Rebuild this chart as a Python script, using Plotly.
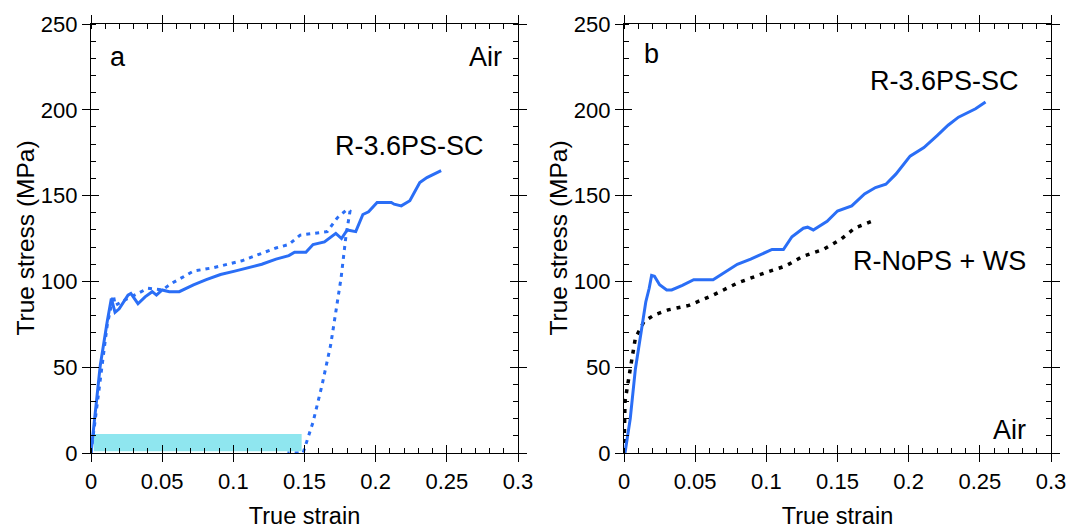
import plotly.graph_objects as go

# ---------------- data ----------------
# Panel a: solid curve (R-3.6PS-SC, monotonic)
a_solid_strain = [0.0, 0.0065, 0.0114, 0.0143, 0.0169, 0.0198, 0.026, 0.028, 0.033, 0.038, 0.043, 0.046,
                  0.050, 0.055, 0.062, 0.072, 0.081, 0.091, 0.101, 0.110, 0.120, 0.130, 0.139, 0.143,
                  0.151, 0.156, 0.164, 0.172, 0.176, 0.180, 0.186, 0.191, 0.195, 0.201, 0.211, 0.213,
                  0.218, 0.224, 0.231, 0.236, 0.246]
a_solid_stress = [0, 51, 76.6, 90, 82, 84, 92, 93, 87, 91, 94, 92,
                  95, 94, 94, 98, 101, 104, 106, 108, 110, 113, 115, 117,
                  117, 121.5, 123, 128, 125, 130, 129, 139, 140.6, 146, 146, 145,
                  144, 147, 157.6, 160.5, 164.5]

# Panel a: dotted curve (loading then unloading)
a_dot_strain = [0.0, 0.0065, 0.0114, 0.0157, 0.017, 0.0234, 0.033, 0.040, 0.050, 0.057, 0.072, 0.086,
                0.106, 0.120, 0.130, 0.139, 0.147, 0.166, 0.173, 0.180, 0.182, 0.1792, 0.1757, 0.1684,
                0.1623, 0.156, 0.150, 0.149, 0.138]
a_dot_stress = [0, 43, 74.6, 92, 86, 89, 93, 96, 95, 99, 106, 108,
                112, 116.6, 119.5, 121.5, 127, 129, 137, 142, 141, 127, 102, 63,
                39.5, 18, 2.3, 0, 0]

# Panel a: shaded strain band
band_strain = [0.002, 0.148]
band_stress = [1, 11]

# Panel b: solid curve (R-3.6PS-SC)
b_solid_strain = [0.0007, 0.0044, 0.008, 0.0117, 0.0153, 0.0177, 0.0194, 0.0214, 0.025, 0.030, 0.0335,
                  0.041, 0.049, 0.0626, 0.072, 0.0796, 0.089, 0.099, 0.104, 0.112, 0.118, 0.126, 0.129,
                  0.133, 0.1427, 0.150, 0.160, 0.169, 0.1767, 0.184, 0.191, 0.201, 0.2107, 0.220,
                  0.2277, 0.235, 0.247, 0.254]
b_solid_stress = [0, 20, 49, 69, 88, 96, 103.5, 103, 98, 95, 95,
                  97.7, 101, 101, 106, 110, 113, 117, 118.6, 118.6, 126, 131, 131.6,
                  130, 135, 141, 144, 151, 154.7, 156.6, 162.5, 173, 178, 185,
                  191, 195.7, 200.6, 204.5]

# Panel b: dotted curve (R-NoPS + WS)
b_dot_strain = [0.0, 0.0007, 0.0044, 0.008, 0.014, 0.0214, 0.031, 0.0456, 0.0626, 0.0796, 0.099,
                0.1136, 0.1257, 0.140, 0.1524, 0.162, 0.174]
b_dot_stress = [0, 30, 49, 67, 76.6, 80.5, 83.4, 86, 92, 99, 105,
                109, 114.6, 118.6, 124.6, 131, 135]

x_ticks = [0, 0.05, 0.1, 0.15, 0.2, 0.25, 0.3]
x_tick_labels = ["0", "0.05", "0.1", "0.15", "0.2", "0.25", "0.3"]
y_ticks = [0, 50, 100, 150, 200, 250]
y_tick_labels = ["0", "50", "100", "150", "200", "250"]

# ---------------- figure ----------------
BLUE = "#2a6ef6"
CYAN = "#8fe6ef"
FONT = "Liberation Sans, Arial, sans-serif"
W, H = 1071, 529

fig = go.Figure()

# band (panel a)
fig.add_trace(go.Scatter(
    x=[band_strain[0], band_strain[1], band_strain[1], band_strain[0], band_strain[0]],
    y=[band_stress[0], band_stress[0], band_stress[1], band_stress[1], band_stress[0]],
    mode="lines", fill="toself", fillcolor=CYAN, line=dict(width=0, color=CYAN),
    xaxis="x", yaxis="y", showlegend=False, hoverinfo="skip"))

fig.add_trace(go.Scatter(x=a_dot_strain, y=a_dot_stress, mode="lines",
                         line=dict(color=BLUE, width=3, dash="4px,5px"),
                         xaxis="x", yaxis="y", showlegend=False))
fig.add_trace(go.Scatter(x=a_solid_strain, y=a_solid_stress, mode="lines",
                         line=dict(color=BLUE, width=3),
                         xaxis="x", yaxis="y", showlegend=False))

fig.add_trace(go.Scatter(x=b_dot_strain, y=b_dot_stress, mode="lines",
                         line=dict(color="black", width=3.5, dash="4px,6px"),
                         xaxis="x2", yaxis="y2", showlegend=False))
fig.add_trace(go.Scatter(x=b_solid_strain, y=b_solid_stress, mode="lines",
                         line=dict(color=BLUE, width=3),
                         xaxis="x2", yaxis="y2", showlegend=False))

dom_a = [91 / W, 518 / W]
dom_b = [624 / W, 1051 / W]

def xmain(dom, anchor):
    return dict(domain=dom, anchor=anchor, range=[0, 0.3], tickmode="array", automargin=False,
                tickvals=x_ticks, ticktext=x_tick_labels, ticks="outside", ticklen=8,
                tickwidth=1.3, tickcolor="black", showline=True, linecolor="black",
                linewidth=1.3, mirror="allticks", showgrid=False, zeroline=False,
                tickfont=dict(family=FONT, size=22, color="black"),
                title=dict(text="True strain", font=dict(family=FONT, size=23.5, color="black")),
                minor=dict(dtick=0.01, tick0=0, ticks="inside", ticklen=5, tickwidth=1.1,
                           tickcolor="black", showgrid=False))

def ymain(anchor):
    return dict(domain=[0, 1], anchor=anchor, range=[0, 250], tickmode="array", automargin=False,
                tickvals=y_ticks, ticktext=y_tick_labels, ticks="outside", ticklen=8,
                tickwidth=1.3, tickcolor="black", showline=True, linecolor="black",
                linewidth=1.3, mirror="allticks", showgrid=False, zeroline=False,
                tickfont=dict(family=FONT, size=22, color="black"),
                minor=dict(dtick=10, tick0=0, ticks="inside", ticklen=5, tickwidth=1.1,
                           tickcolor="black", showgrid=False))

def xover(dom, over, anchor):
    return dict(domain=dom, overlaying=over, anchor=anchor, range=[0, 0.3], tickmode="array",
                automargin=False,
                tickvals=x_ticks, ticks="inside", ticklen=8, tickwidth=1.3, tickcolor="black",
                showticklabels=False, showline=False, mirror="allticks", showgrid=False,
                zeroline=False)

def yover(over, anchor):
    return dict(domain=[0, 1], overlaying=over, anchor=anchor, range=[0, 250], tickmode="array",
                automargin=False,
                tickvals=y_ticks, ticks="inside", ticklen=8, tickwidth=1.3, tickcolor="black",
                showticklabels=False, showline=False, mirror="allticks", showgrid=False,
                zeroline=False)

# dummy traces so that the overlay axes (inward major ticks) get drawn
for xa, ya in (("x3", "y3"), ("x4", "y4")):
    fig.add_trace(go.Scatter(x=[None], y=[None], xaxis=xa, yaxis=ya, showlegend=False,
                             hoverinfo="skip"))

fig.update_layout(
    width=W, height=H, autosize=False,
    margin=dict(l=0, r=0, t=24, b=76, pad=0, autoexpand=False),
    paper_bgcolor="white", plot_bgcolor="white",
    font=dict(family=FONT, color="black"),
    xaxis=xmain(dom_a, "y"), yaxis=ymain("x"),
    xaxis2=xmain(dom_b, "y2"), yaxis2=ymain("x2"),
    xaxis3=xover(dom_a, "x", "y3"), yaxis3=yover("y", "x3"),
    xaxis4=xover(dom_b, "x2", "y4"), yaxis4=yover("y2", "x4"),
    showlegend=False,
)

# y-axis titles (as rotated text, placed 66 px left of each panel's axis)
for px in (25, 558):
    fig.add_annotation(x=px / W, y=0.5, xref="paper", yref="paper", text="True stress (MPa)",
                       textangle=-90, showarrow=False, xanchor="center", yanchor="middle",
                       font=dict(family=FONT, size=24.5, color="black"))

ann_font = dict(family=FONT, size=27, color="black")
annots = [
    ("x", "y", 0.019, 231, "a"),
    ("x", "y", 0.277, 231, "Air"),
    ("x", "y", 0.224, 178.7, "R-3.6PS-SC"),
    ("x2", "y2", 0.019, 232.5, "b"),
    ("x2", "y2", 0.2255, 216.7, "R-3.6PS-SC"),
    ("x2", "y2", 0.222, 111.6, "R-NoPS + WS"),
    ("x2", "y2", 0.271, 13.4, "Air"),
]
for xr, yr, xv, yv, txt in annots:
    fig.add_annotation(x=xv, y=yv, xref=xr, yref=yr, text=txt, showarrow=False,
                       font=ann_font, xanchor="center", yanchor="middle")

post = ("document.documentElement.style.overflow='hidden';"
        "document.body.style.margin='0';document.body.style.overflow='hidden';")

fig.write_html("out.html", config={"displayModeBar": False, "responsive": False},
               post_script=post)
